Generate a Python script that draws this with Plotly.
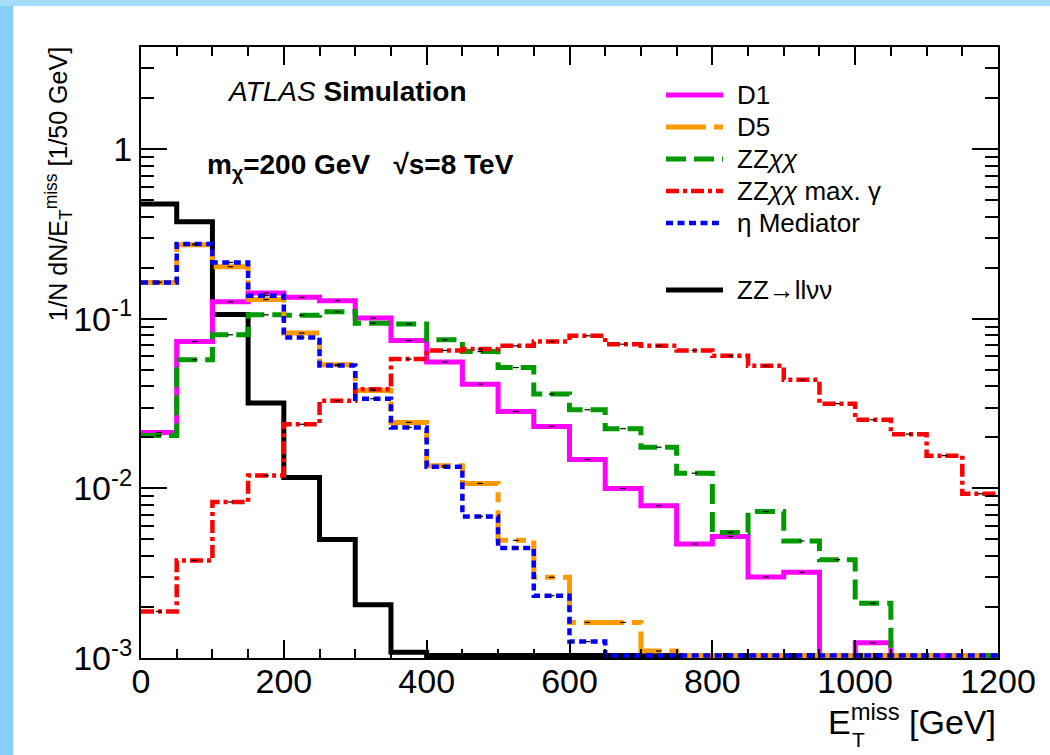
import numpy as np
import plotly.graph_objects as go

# ---------------- data ----------------
BIN_WIDTH = 50
X_MIN, X_MAX = 0, 1200
bin_edges = np.arange(X_MIN, X_MAX + BIN_WIDTH, BIN_WIDTH)

zz_llvv = [0.475, 0.374, 0.106, 0.0319, 0.0116, 0.00499, 0.00206, 0.00108,
           0, 0, 0, 0, 0, 0, 0, 0, 0, 0, 0, 0, 0, 0, 0, 0]
d1 = [0.0214, 0.0735, 0.126, 0.142, 0.134, 0.128, 0.101, 0.0745,
      0.0556, 0.0412, 0.0284, 0.0232, 0.0148, 0.0100, 0.0079, 0.0047,
      0.0052, 0.0030, 0.0032, 0, 0.00123, 0, 0, 0]
d5 = [0.164, 0.273, 0.203, 0.130, 0.0824, 0.0536, 0.0378, 0.0245,
      0.0136, 0.0107, 0.00494, 0.00299, 0.00162, 0.00162, 0.00110, 0,
      0, 0, 0, 0, 0, 0, 0, 0]
zzxx = [0.0205, 0.0574, 0.0805, 0.1056, 0.105, 0.110, 0.0943, 0.0931,
        0.0752, 0.0641, 0.0516, 0.0360, 0.0291, 0.0225, 0.0175, 0.0123,
        0.0055, 0.0073, 0.0049, 0.0038, 0.0021, 0, 0, 0]
zzxx_maxg = [0.00188, 0.00376, 0.00831, 0.0119, 0.0239, 0.0329, 0.0385, 0.0579,
             0.0651, 0.0663, 0.0693, 0.0735, 0.0794, 0.0709, 0.0693, 0.0651,
             0.0605, 0.0528, 0.0437, 0.0316, 0.0254, 0.0209, 0.0156, 0.0093]
eta_med = [0.164, 0.276, 0.215, 0.137, 0.0776, 0.053, 0.0338, 0.0229,
           0.0134, 0.00684, 0.00445, 0.00233, 0.00125, 0, 0, 0,
           0, 0, 0, 0, 0, 0, 0, 0]

y_tick_vals = [0.001, 0.01, 0.1, 1]
y_tick_text = ["10<sup>-3</sup>", "10<sup>-2</sup>", "10<sup>-1</sup>", "1"]

# ---------------- styling ----------------
FONT = "Liberation Sans, Arial, Helvetica, sans-serif"
W, H = 1050, 755
L, R, T, B = 141, 998, 47, 658        # plot-area pixel box
Y_LOG_RANGE = [-3, 0.603]
FLOOR = 10 ** (-2.985)                  # empty bins drawn at the axis floor (ROOT style)

series = [
    # key, legend label, values, color, width, dash
    ("zz", "ZZ→llνν", zz_llvv, "#000000", 5, "solid"),
    ("d1", "D1", d1, "#ff00ff", 5, "solid"),
    ("zzxx", "ZZ<i>χχ</i>", zzxx, "#009900", 5, "20px,8px"),
    ("d5", "D5", d5, "#ff9900", 5, "40px,8px,10px,8px"),
    ("maxg", "ZZ<i>χχ</i> max. γ", zzxx_maxg, "#ff0000", 4.5, "13px,4px,4px,4px"),
    ("eta", "η Mediator", eta_med, "#0000ff", 4.5, "7px,4.5px"),
]

fig = go.Figure()
centers = (bin_edges[:-1] + bin_edges[1:]) / 2
for key, label, vals, color, width, dash in series:
    v = np.asarray(vals, dtype=float)
    drawn = np.where(v > 0, v, FLOOR)
    fig.add_trace(go.Scatter(
        x=bin_edges, y=np.append(drawn, drawn[-1]),
        mode="lines", line=dict(color=color, width=width, dash=dash, shape="hv"),
        name=key, showlegend=False, hoverinfo="skip"))
for key, label, vals, color, width, dash in series:
    v = np.asarray(vals, dtype=float)
    m = v > 0
    fig.add_trace(go.Scatter(
        x=centers[m], y=v[m], mode="markers",
        marker=dict(symbol="line-ew", size=4, line=dict(color="black", width=1.2)),
        showlegend=False, hoverinfo="skip"))

def px2x(px):
    return (px - L) / (R - L)

def px2y(py):
    return (B - py) / (B - T)

shapes = [
    # white panel over the light-blue page border
    dict(type="rect", xref="paper", yref="paper", layer="below",
         x0=px2x(13), x1=px2x(1060), y0=px2y(765), y1=px2y(6),
         fillcolor="white", line=dict(width=0)),
    dict(type="rect", xref="paper", yref="paper", layer="below",
         x0=px2x(-5), x1=px2x(13), y0=px2y(765), y1=px2y(-5),
         fillcolor="#86d0fc", line=dict(width=0)),
    dict(type="rect", xref="paper", yref="paper", layer="below",
         x0=px2x(-5), x1=px2x(1060), y0=px2y(6), y1=px2y(-5),
         fillcolor="#a4ddfc", line=dict(width=0)),
]

annotations = []
# legend (manual, ROOT-style)
legend_rows = [("d1", 95), ("d5", 127), ("zzxx", 159), ("maxg", 191),
               ("eta", 223), ("zz", 290)]
style = {s[0]: s for s in series}
for key, ypx in legend_rows:
    _, label, _, color, width, dash = style[key]
    shapes.append(dict(type="line", xref="paper", yref="paper",
                       x0=px2x(666), x1=px2x(723), y0=px2y(ypx), y1=px2y(ypx),
                       line=dict(color=color, width=width, dash=dash)))
    annotations.append(dict(xref="paper", yref="paper", x=px2x(735), y=px2y(ypx),
                            xanchor="left", yanchor="middle", showarrow=False,
                            text=label, font=dict(family=FONT, size=26, color="black")))

annotations += [
    dict(xref="paper", yref="paper", x=px2x(225), y=px2y(91), xanchor="left",
         yanchor="middle", showarrow=False,
         text="<i>ATLAS</i> <b>Simulation</b>",
         font=dict(family=FONT, size=28, color="black")),
    dict(xref="paper", yref="paper", x=px2x(205), y=px2y(166), xanchor="left",
         yanchor="middle", showarrow=False,
         text="<b>m<sub>χ</sub>=200 GeV   √s=8 TeV</b>",
         font=dict(family=FONT, size=28, color="black")),
    # x-axis title (E^miss with stacked T subscript)
    dict(xref="paper", yref="paper", x=px2x(998), y=px2y(719), xanchor="right",
         yanchor="middle", showarrow=False,
         text="E<sup>miss</sup> [GeV]", font=dict(family=FONT, size=34, color="black")),
    dict(xref="paper", yref="paper", x=px2x(850), y=px2y(739), xanchor="left",
         yanchor="middle", showarrow=False,
         text="T", font=dict(family=FONT, size=21, color="black")),
    # y-axis title
    dict(xref="paper", yref="paper", x=px2x(58), y=px2y(45), xanchor="center",
         yanchor="top", showarrow=False, textangle=-90,
         text="1/N dN/E<sub>T</sub><sup>miss</sup> [1/50 GeV]",
         font=dict(family=FONT, size=25, color="black")),
]

minor_y = [k * 10.0 ** e for e in range(-3, 1) for k in range(2, 10)]

fig.update_layout(
    width=W, height=H,
    margin=dict(l=L, r=W - R, t=T, b=H - B, pad=0),
    paper_bgcolor="#8fd4fc", plot_bgcolor="white",
    showlegend=False,
    shapes=shapes, annotations=annotations,
    font=dict(family=FONT, size=34, color="black"),
    xaxis=dict(range=[X_MIN, X_MAX], dtick=200, tick0=0, ticks="inside", ticklen=18,
               tickwidth=1.5, tickcolor="black", showline=True, linewidth=2,
               linecolor="black", mirror="ticks", showgrid=False, zeroline=False,
               tickfont=dict(family=FONT, size=34), ticklabelstandoff=-8,
               minor=dict(dtick=50, ticks="inside", ticklen=9, tickwidth=1.5,
                          tickcolor="black", showgrid=False)),
    yaxis=dict(type="log", range=Y_LOG_RANGE, tickmode="array", tickvals=y_tick_vals,
               ticktext=y_tick_text, ticks="inside", ticklen=26, tickwidth=1.5,
               tickcolor="black", showline=True, linewidth=2, linecolor="black",
               mirror="ticks", showgrid=False, zeroline=False,
               tickfont=dict(family=FONT, size=34),
               minor=dict(tickmode="array", tickvals=minor_y, ticks="inside",
                          ticklen=13, tickwidth=1.5, tickcolor="black", showgrid=False)),
)

fig.write_html("out.html")
